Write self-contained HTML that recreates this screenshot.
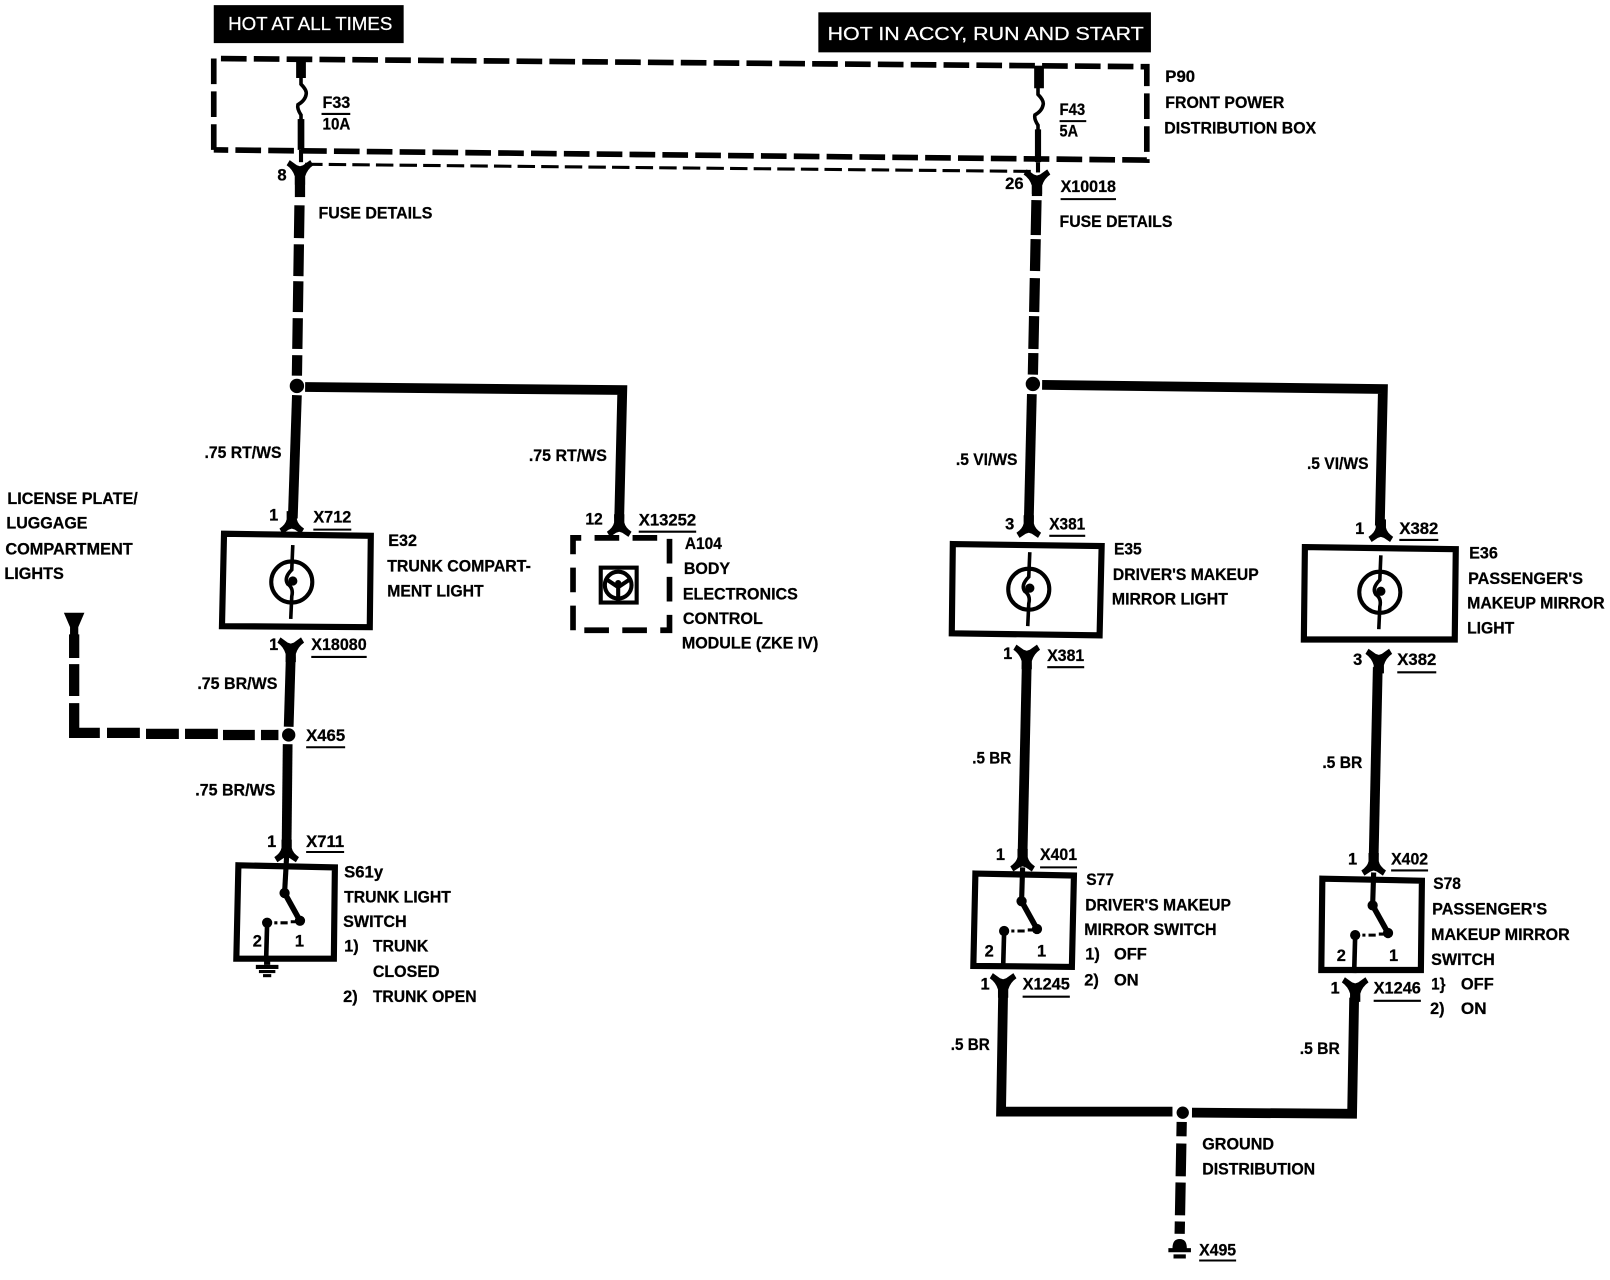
<!DOCTYPE html>
<html><head><meta charset="utf-8"><style>
html,body{margin:0;padding:0;background:#fff}
svg{display:block}
text{font-family:"Liberation Sans",sans-serif;font-weight:bold;font-size:16px;fill:#000;stroke:#000;stroke-width:.25}
.w{fill:#fff;stroke:#fff;font-weight:normal;font-size:18px}
.h{fill:none;stroke:#000;stroke-width:9.5}
.t{fill:none;stroke:#000;stroke-width:3.5}
.b{fill:none;stroke:#000;stroke-width:6}
.d{fill:none;stroke:#000;stroke-width:10}
.u{stroke:#000;stroke-width:2}
</style></head><body>
<svg width="1610" height="1280" viewBox="0 0 1568 1247" xmlns="http://www.w3.org/2000/svg">
<defs>
<path id="ca" d="M-5-16L5-16L5-8Q6-3 12 1L9 6L3 2L0 1L-3 2L-9 6L-12 1Q-6-3-5-8Z"/>
<path id="cy" d="M-10-8L-3-3L0-2L3-3L10-8L13-3Q7 1 5 8L5 16L-5 16L-5 8Q-7 1-13-3Z"/>
<g id="bulb"><circle cx="0" cy="0" r="20" fill="#fff" stroke="#000" stroke-width="4"/><path d="M1-36L0-12Q-8-4-4 2Q2 6 0 14L-1 36" fill="none" stroke="#000" stroke-width="3.500"/><circle cx="1" cy="-1" r="4.500"/></g>
<g id="sw"><path d="M0 0L15 27" fill="none" stroke="#000" stroke-width="5.500"/><circle cx="0" cy="0" r="5"/><circle cx="15" cy="27" r="5"/><circle cx="-17" cy="29" r="5"/><path d="M-10 29h3M-4 29h7M6 28h6" stroke="#000" stroke-width="3" fill="none"/><path d="M-17 29L-18 66" fill="none" stroke="#000" stroke-width="4.500"/></g>
<path id="fuse" d="M0 0V8Q6 14 5 18Q4 24-3 28Q-4 32 0 38V44" fill="none" stroke="#000" stroke-width="3.500"/>
<g id="gnd"><rect x="-3" y="-8" width="6" height="6"/><rect x="-11" y="-2" width="22" height="4"/><rect x="-8" y="3" width="16" height="3"/><rect x="-4" y="7" width="8" height="3"/></g>
</defs>

<rect x="208" y="5" width="185" height="37"/>
<text class="w" x="222" y="29" textLength="160" lengthAdjust="spacingAndGlyphs">HOT AT ALL TIMES</text>
<rect x="797" y="12" width="324" height="39"/>
<text class="w" x="806" y="39" textLength="308" lengthAdjust="spacingAndGlyphs">HOT IN ACCY, RUN AND START</text>

<!-- P90 box -->
<path d="M208 146V57L1117 65V156L208 146" fill="none" stroke="#000" stroke-width="5.500" stroke-dasharray="25 7"/>
<path d="M297 160L1005 167" fill="none" stroke="#000" stroke-width="3" stroke-dasharray="17 6"/>

<!-- left feed -->
<path d="M293 56V76" class="h"/>
<use href="#fuse" x="293" y="74"/>
<path d="M293 116V146" fill="none" stroke="#000" stroke-width="6.500"/>
<path d="M293 146V158" fill="none" stroke="#000" stroke-width="4"/>
<use href="#cy" transform="translate(292,164)"/>
<path d="M292 172V192" class="h" style="stroke-width:10"/>
<path d="M291.500 200L289 367" class="d" stroke-dasharray="32 6 31 5 30 6 30 6 20 20"/>
<circle cx="289" cy="376" r="7"/>
<path d="M289 385L285 505" class="h"/>
<path d="M297 377L606 380L603 505" class="h"/>
<use href="#ca" x="284" y="514"/>
<use href="#ca" x="603" y="517"/>

<!-- E32 -->
<path d="M218 520L361 522L360 611L216 610Z" class="b"/>
<use href="#bulb" x="284" y="567"/>
<use href="#cy" transform="translate(283,629)"/>
<path d="M283 640L281 708" class="h"/>
<circle cx="281" cy="716" r="6.500"/>
<path d="M280 725L279 820" class="h"/>
<use href="#ca" x="279" y="834"/>
<path d="M72 618V641M72 647V678M72 685V714H97M104 714H136M142 715H174M180 715H212M217 716H248M254 716H271" class="d"/>
<path d="M62 597H82L76 611V625H68V611Z"/>

<!-- A104 -->
<path d="M558 614V524H652V614Z" fill="none" stroke="#000" stroke-width="5.500" stroke-dasharray="24 13"/>
<rect x="585" y="553" width="35" height="34" fill="none" stroke="#000" stroke-width="4"/>
<circle cx="602" cy="570" r="13" fill="none" stroke="#000" stroke-width="4"/>
<path d="M602 572V586M590 564L602 572L614 564" stroke="#000" stroke-width="4" fill="none"/>
<circle cx="602" cy="568" r="3"/>

<!-- S61y -->
<path d="M232 843L326 845L325 934L230 934Z" class="b"/>
<path d="M279 834L277 870" class="t" style="stroke-width:5"/>
<use href="#sw" x="277" y="870"/>
<use href="#gnd" x="260" y="942"/>

<!-- right feed -->
<path d="M1012 64V86" class="h"/>
<use href="#fuse" x="1011" y="84"/>
<path d="M1011 126V158" fill="none" stroke="#000" stroke-width="6"/>
<path d="M1011 158V168" fill="none" stroke="#000" stroke-width="4"/>
<use href="#cy" transform="translate(1010,173)"/>
<path d="M1010 181V191" class="h" style="stroke-width:10"/>
<path d="M1009.500 195L1006 365" class="d" stroke-dasharray="34 4 31 7 33 4 32 4 21 20"/>
<circle cx="1006" cy="374" r="7"/>
<path d="M1005 384L1002 508" class="h"/>
<path d="M1015 375L1347 379L1344 512" class="h"/>
<use href="#ca" x="1002" y="518"/>
<use href="#ca" x="1345" y="522"/>

<!-- E35 -->
<path d="M928 530L1073 532L1071 619L927 617Z" class="b"/>
<use href="#bulb" x="1002" y="574"/>
<use href="#cy" transform="translate(1000,636)"/>
<path d="M1000 648L996 830" class="h"/>
<use href="#ca" x="996" y="843"/>
<!-- E36 -->
<path d="M1271 533L1418 535L1417 623L1270 623Z" class="b"/>
<use href="#bulb" x="1344" y="577"/>
<use href="#cy" transform="translate(1343,640)"/>
<path d="M1342 650L1338 835" class="h"/>
<use href="#ca" x="1338" y="847"/>

<!-- S77 -->
<path d="M950 851L1046 853L1044 942L948 941Z" class="b"/>
<path d="M996 845L995 878" class="t" style="stroke-width:5"/>
<use href="#sw" x="995" y="878"/>
<use href="#cy" transform="translate(977,956)"/>
<path d="M977 968L975 1083H1142" class="h"/>
<!-- S78 -->
<path d="M1288 856L1385 858L1384 945L1287 945Z" class="b"/>
<path d="M1338 850L1337 882" class="t" style="stroke-width:5"/>
<use href="#sw" x="1337" y="882"/>
<use href="#cy" transform="translate(1320,960)"/>
<path d="M1319 972L1317 1085L1161 1084" class="h"/>
<circle cx="1152" cy="1084" r="6"/>
<path d="M1151 1093L1149 1202" class="d" stroke-dasharray="14 7 32 6 32 6 12 20"/>
<path d="M1142 1216Q1142 1207 1149 1207Q1156 1207 1156 1216H1160V1220H1138V1216ZM1143 1222H1155V1226H1143Z"/>

<!-- underlines -->
<path class="u" d="M313 111H341M1032 118H1058M1033 194H1087M305 516H342M622 518H678M303 640H357M298 728H336M298 830H335M1022 522H1057M1363 526H1401M1020 650H1056M1361 655H1399M1013 845H1049M1355 848H1391M996 971H1042M1338 975H1384M1168 1228H1204"/>

<!-- labels -->
<text x="314" y="105" textLength="27" lengthAdjust="spacingAndGlyphs">F33</text>
<text x="314" y="126" textLength="27" lengthAdjust="spacingAndGlyphs">10A</text>
<text x="1032" y="112" textLength="25" lengthAdjust="spacingAndGlyphs">F43</text>
<text x="1032" y="133" textLength="18" lengthAdjust="spacingAndGlyphs">5A</text>
<text x="1135" y="80" textLength="29" lengthAdjust="spacingAndGlyphs">P90</text>
<text x="1135" y="105" textLength="116" lengthAdjust="spacingAndGlyphs">FRONT POWER</text>
<text x="1134" y="130" textLength="148" lengthAdjust="spacingAndGlyphs">DISTRIBUTION BOX</text>
<text x="270" y="176" textLength="9" lengthAdjust="spacingAndGlyphs">8</text>
<text x="979" y="184" textLength="18" lengthAdjust="spacingAndGlyphs">26</text>
<text x="1033" y="187" textLength="54" lengthAdjust="spacingAndGlyphs">X10018</text>
<text x="310" y="213" textLength="111" lengthAdjust="spacingAndGlyphs">FUSE DETAILS</text>
<text x="1032" y="221" textLength="110" lengthAdjust="spacingAndGlyphs">FUSE DETAILS</text>
<text x="199" y="446" textLength="75" lengthAdjust="spacingAndGlyphs">.75 RT/WS</text>
<text x="515" y="449" textLength="76" lengthAdjust="spacingAndGlyphs">.75 RT/WS</text>
<text x="7" y="491" textLength="127" lengthAdjust="spacingAndGlyphs">LICENSE PLATE/</text>
<text x="6" y="515" textLength="79" lengthAdjust="spacingAndGlyphs">LUGGAGE</text>
<text x="5" y="540" textLength="124" lengthAdjust="spacingAndGlyphs">COMPARTMENT</text>
<text x="4" y="564" textLength="58" lengthAdjust="spacingAndGlyphs">LIGHTS</text>
<text x="262" y="507">1</text>
<text x="305" y="509" textLength="37" lengthAdjust="spacingAndGlyphs">X712</text>
<text x="570" y="511" textLength="17" lengthAdjust="spacingAndGlyphs">12</text>
<text x="622" y="512" textLength="56" lengthAdjust="spacingAndGlyphs">X13252</text>
<text x="378" y="532" textLength="28" lengthAdjust="spacingAndGlyphs">E32</text>
<text x="377" y="557" textLength="140" lengthAdjust="spacingAndGlyphs">TRUNK COMPART-</text>
<text x="377" y="581" textLength="94" lengthAdjust="spacingAndGlyphs">MENT LIGHT</text>
<text x="667" y="535" textLength="36" lengthAdjust="spacingAndGlyphs">A104</text>
<text x="666" y="559" textLength="45" lengthAdjust="spacingAndGlyphs">BODY</text>
<text x="665" y="584" textLength="112" lengthAdjust="spacingAndGlyphs">ELECTRONICS</text>
<text x="665" y="608" textLength="78" lengthAdjust="spacingAndGlyphs">CONTROL</text>
<text x="664" y="632" textLength="133" lengthAdjust="spacingAndGlyphs">MODULE (ZKE IV)</text>
<text x="262" y="633">1</text>
<text x="303" y="633" textLength="54" lengthAdjust="spacingAndGlyphs">X18080</text>
<text x="192" y="671" textLength="78" lengthAdjust="spacingAndGlyphs">.75 BR/WS</text>
<text x="298" y="722" textLength="38" lengthAdjust="spacingAndGlyphs">X465</text>
<text x="190" y="775" textLength="78" lengthAdjust="spacingAndGlyphs">.75 BR/WS</text>
<text x="260" y="825">1</text>
<text x="298" y="825" textLength="37" lengthAdjust="spacingAndGlyphs">X711</text>
<text x="335" y="855" textLength="38" lengthAdjust="spacingAndGlyphs">S61y</text>
<text x="335" y="879" textLength="104" lengthAdjust="spacingAndGlyphs">TRUNK LIGHT</text>
<text x="334" y="903" textLength="62" lengthAdjust="spacingAndGlyphs">SWITCH</text>
<text x="335" y="927">1)</text>
<text x="363" y="927" textLength="54" lengthAdjust="spacingAndGlyphs">TRUNK</text>
<text x="363" y="952" textLength="65" lengthAdjust="spacingAndGlyphs">CLOSED</text>
<text x="334" y="976">2)</text>
<text x="363" y="976" textLength="101" lengthAdjust="spacingAndGlyphs">TRUNK OPEN</text>
<text x="246" y="922">2</text>
<text x="287" y="922">1</text>
<text x="931" y="453" textLength="60" lengthAdjust="spacingAndGlyphs">.5 VI/WS</text>
<text x="1273" y="457" textLength="60" lengthAdjust="spacingAndGlyphs">.5 VI/WS</text>
<text x="979" y="516">3</text>
<text x="1022" y="516" textLength="35" lengthAdjust="spacingAndGlyphs">X381</text>
<text x="1320" y="520">1</text>
<text x="1363" y="520" textLength="38" lengthAdjust="spacingAndGlyphs">X382</text>
<text x="1085" y="540" textLength="27" lengthAdjust="spacingAndGlyphs">E35</text>
<text x="1084" y="565" textLength="142" lengthAdjust="spacingAndGlyphs">DRIVER'S MAKEUP</text>
<text x="1083" y="589" textLength="113" lengthAdjust="spacingAndGlyphs">MIRROR LIGHT</text>
<text x="1431" y="544" textLength="28" lengthAdjust="spacingAndGlyphs">E36</text>
<text x="1430" y="569" textLength="112" lengthAdjust="spacingAndGlyphs">PASSENGER'S</text>
<text x="1429" y="593" textLength="134" lengthAdjust="spacingAndGlyphs">MAKEUP MIRROR</text>
<text x="1429" y="617" textLength="46" lengthAdjust="spacingAndGlyphs">LIGHT</text>
<text x="977" y="642">1</text>
<text x="1020" y="644" textLength="36" lengthAdjust="spacingAndGlyphs">X381</text>
<text x="1318" y="648">3</text>
<text x="1361" y="648" textLength="38" lengthAdjust="spacingAndGlyphs">X382</text>
<text x="947" y="744" textLength="38" lengthAdjust="spacingAndGlyphs">.5 BR</text>
<text x="1288" y="748" textLength="39" lengthAdjust="spacingAndGlyphs">.5 BR</text>
<text x="970" y="838">1</text>
<text x="1013" y="838" textLength="36" lengthAdjust="spacingAndGlyphs">X401</text>
<text x="1313" y="842">1</text>
<text x="1355" y="842" textLength="36" lengthAdjust="spacingAndGlyphs">X402</text>
<text x="1058" y="862" textLength="27" lengthAdjust="spacingAndGlyphs">S77</text>
<text x="1057" y="887" textLength="142" lengthAdjust="spacingAndGlyphs">DRIVER'S MAKEUP</text>
<text x="1056" y="911" textLength="129" lengthAdjust="spacingAndGlyphs">MIRROR SWITCH</text>
<text x="1057" y="935">1)</text>
<text x="1085" y="935" textLength="32" lengthAdjust="spacingAndGlyphs">OFF</text>
<text x="1056" y="960">2)</text>
<text x="1085" y="960" textLength="24" lengthAdjust="spacingAndGlyphs">ON</text>
<text x="1396" y="866" textLength="27" lengthAdjust="spacingAndGlyphs">S78</text>
<text x="1395" y="891" textLength="112" lengthAdjust="spacingAndGlyphs">PASSENGER'S</text>
<text x="1394" y="916" textLength="135" lengthAdjust="spacingAndGlyphs">MAKEUP MIRROR</text>
<text x="1394" y="940" textLength="62" lengthAdjust="spacingAndGlyphs">SWITCH</text>
<text x="1394" y="964" textLength="14" lengthAdjust="spacingAndGlyphs">1}</text>
<text x="1423" y="964" textLength="32" lengthAdjust="spacingAndGlyphs">OFF</text>
<text x="1393" y="988" textLength="14" lengthAdjust="spacingAndGlyphs">2)</text>
<text x="1423" y="988" textLength="25" lengthAdjust="spacingAndGlyphs">ON</text>
<text x="959" y="932">2</text>
<text x="1010" y="932">1</text>
<text x="1302" y="936">2</text>
<text x="1353" y="936">1</text>
<text x="955" y="964">1</text>
<text x="996" y="964" textLength="46" lengthAdjust="spacingAndGlyphs">X1245</text>
<text x="1296" y="968">1</text>
<text x="1338" y="968" textLength="46" lengthAdjust="spacingAndGlyphs">X1246</text>
<text x="926" y="1023" textLength="38" lengthAdjust="spacingAndGlyphs">.5 BR</text>
<text x="1266" y="1027" textLength="39" lengthAdjust="spacingAndGlyphs">.5 BR</text>
<text x="1171" y="1120" textLength="70" lengthAdjust="spacingAndGlyphs">GROUND</text>
<text x="1171" y="1144" textLength="110" lengthAdjust="spacingAndGlyphs">DISTRIBUTION</text>
<text x="1168" y="1223" textLength="36" lengthAdjust="spacingAndGlyphs">X495</text>
</svg>
</body></html>
